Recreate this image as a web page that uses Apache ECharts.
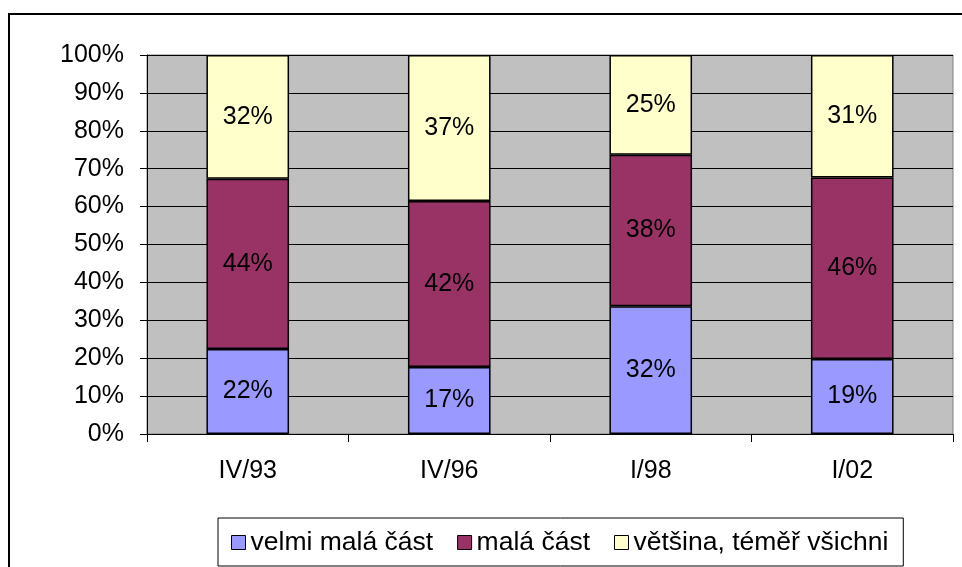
<!DOCTYPE html>
<html>
<head>
    <meta charset="utf-8">
    <title>Chart</title>
    <script src="https://cdn.jsdelivr.net/npm/echarts@6/dist/echarts.min.js"></script>
    <style>
        html, body { margin: 0; padding: 0; background: #fff; }
        #chart { width: 962px; height: 567px; }
    </style>
</head>
<body>
    <div id="chart"></div>
    <script>
        var categories = ['IV/93', 'IV/96', 'I/98', 'I/02'];
        var seriesNames = ['velmi malá část', 'malá část', 'většina, téměř všichni'];
        var velmiMala = [22, 17, 32, 19];
        var mala = [44, 42, 38, 46];
        var vetsina = [32, 37, 25, 31];
        var colors = ['#9999FF', '#993366', '#FFFFCC'];

        var raw = [velmiMala, mala, vetsina];
        // 100% stacked: each column is scaled to its own total
        var totals = categories.map(function (c, i) {
            return velmiMala[i] + mala[i] + vetsina[i];
        });

        var font = 'Liberation Sans, Arial, sans-serif';
        var fs = 25;

        var series = raw.map(function (vals, s) {
            return {
                name: seriesNames[s],
                type: 'bar',
                stack: 'all',
                barWidth: '41%',
                itemStyle: { color: colors[s], borderColor: '#000', borderWidth: 1.5 },
                label: {
                    show: true,
                    position: 'inside',
                    color: '#000',
                    fontFamily: font,
                    fontSize: fs,
                    formatter: function (p) { return vals[p.dataIndex] + '%'; }
                },
                emphasis: { disabled: true },
                data: vals.map(function (v, i) { return v / totals[i] * 100; })
            };
        });

        var chart = echarts.init(document.getElementById('chart'));
        chart.setOption({
            animation: false,
            grid: { left: 147, right: 9, top: 55, bottom: 133, show: true, backgroundColor: '#C0C0C0', borderColor: '#808080', borderWidth: 1 },
            graphic: [{
                type: 'rect',
                shape: { x: 9, y: 14, width: 980, height: 600 },
                style: { fill: 'none', stroke: '#000', lineWidth: 2 },
                silent: true
            }],
            legend: {
                left: 218,
                top: 518,
                padding: [11, 15, 10, 13],
                itemGap: 24,
                itemWidth: 14,
                itemHeight: 14,
                icon: 'rect',
                borderColor: '#000',
                borderWidth: 1,
                itemStyle: { borderColor: '#000', borderWidth: 1 },
                textStyle: { fontFamily: font, fontSize: 26.5, color: '#000' },
                data: seriesNames
            },
            xAxis: {
                type: 'category',
                data: categories,
                axisLine: { lineStyle: { color: '#000', width: 1 } },
                axisTick: { show: true, length: 8, lineStyle: { color: '#000' } },
                axisLabel: { color: '#000', fontFamily: font, fontSize: fs, margin: 25 }
            },
            yAxis: {
                type: 'value',
                min: 0,
                max: 100,
                interval: 10,
                axisLine: { show: true, lineStyle: { color: '#000', width: 1 } },
                axisTick: { show: true, length: 7, lineStyle: { color: '#000' } },
                splitLine: { lineStyle: { color: '#000', width: 1 } },
                axisLabel: { color: '#000', fontFamily: font, fontSize: fs, margin: 23, formatter: '{value}%' }
            },
            series: series
        });
    </script>
</body>
</html>
